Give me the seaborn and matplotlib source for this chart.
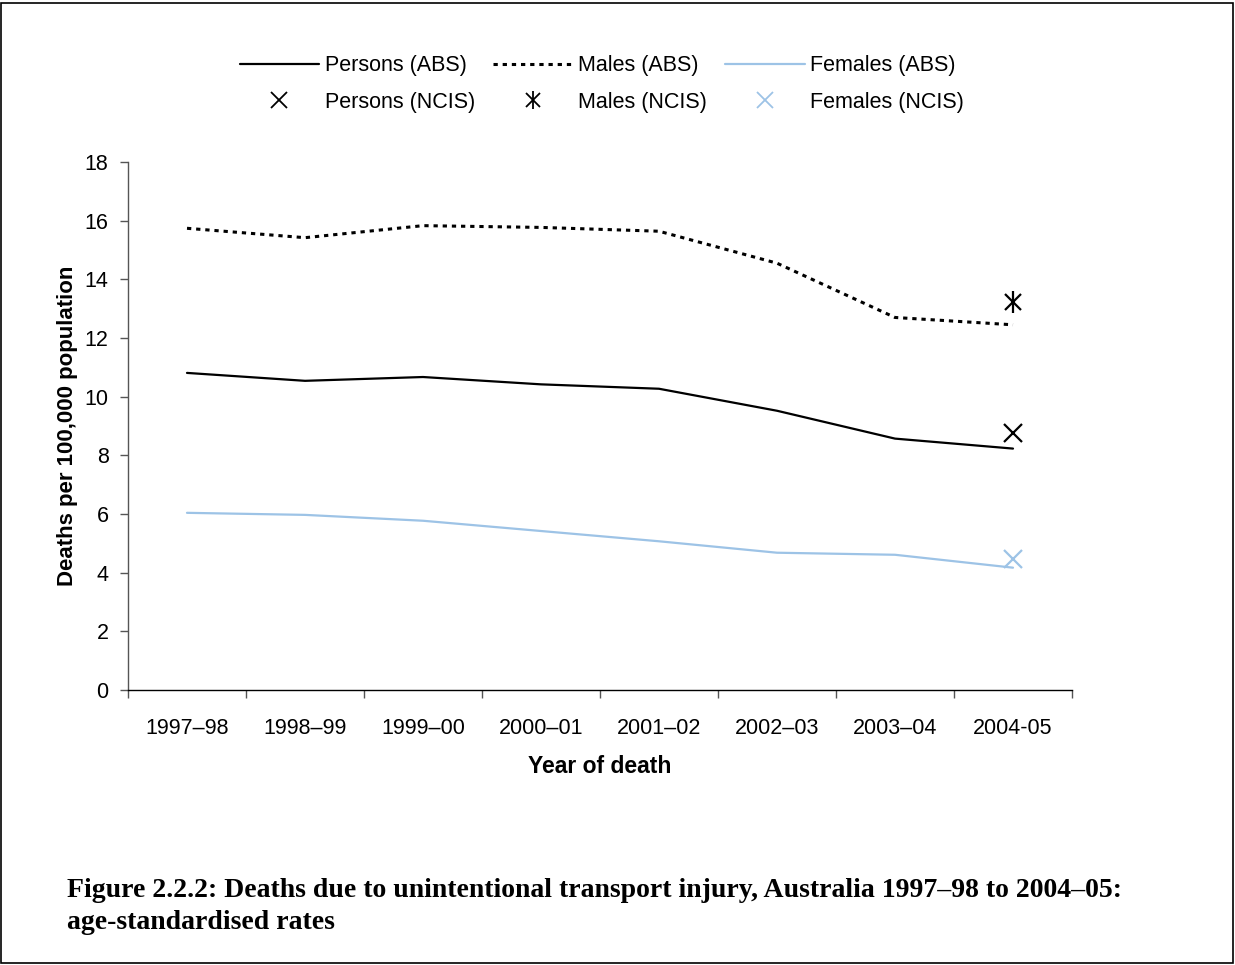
import matplotlib
matplotlib.use("Agg")
import matplotlib.pyplot as plt
import seaborn as sns
import pandas as pd
from matplotlib.lines import Line2D
from matplotlib.patches import Rectangle
from matplotlib.ticker import FixedLocator, MultipleLocator

years = ["1997–98", "1998–99", "1999–00", "2000–01", "2001–02", "2002–03", "2003–04", "2004-05"]
persons_abs = [10.81, 10.54, 10.67, 10.42, 10.27, 9.52, 8.57, 8.23]
males_abs = [15.74, 15.42, 15.83, 15.77, 15.64, 14.55, 12.70, 12.45]
females_abs = [6.04, 5.97, 5.77, 5.42, 5.07, 4.68, 4.61, 4.17]
ncis_year = "2004-05"
persons_ncis = 8.76
males_ncis = 13.22
females_ncis = 4.48

FEMALE_BLUE = "#9DC3E6"

sns.set_theme(style="ticks")
plt.rcParams["font.family"] = ["Liberation Sans", "DejaVu Sans"]
plt.rcParams["text.color"] = "black"
plt.rcParams["xtick.labelcolor"] = "black"
plt.rcParams["ytick.labelcolor"] = "black"
plt.rcParams["axes.labelcolor"] = "black"

df = pd.DataFrame({"year": years, "Persons": persons_abs,
                   "Males": males_abs, "Females": females_abs})

fig = plt.figure(figsize=(12.35, 9.65), dpi=100)
ax = fig.add_axes([128 / 1235, 1 - 690 / 965, (1072 - 128) / 1235, (690 - 162) / 965])

x = list(range(len(years)))
sns.lineplot(x=x, y=df["Persons"], ax=ax, color="black", lw=1.6)
sns.lineplot(x=x, y=df["Males"], ax=ax, color="black", lw=2.2,
             linestyle=(0, (1.4, 1.6)))
sns.lineplot(x=x, y=df["Females"], ax=ax, color=FEMALE_BLUE, lw=1.6)

# asterisk for males: an x plus a vertical bar
xn = years.index(ncis_year)
ax.plot([xn], [persons_ncis], marker="x", ms=13, mew=1.6, color="black", ls="none")
ax.plot([xn], [males_ncis], marker="x", ms=12, mew=1.6, color="black", ls="none")
ax.plot([xn], [males_ncis], marker="|", ms=16, mew=1.6, color="black", ls="none")
ax.plot([xn], [females_ncis], marker="x", ms=13, mew=1.6, color=FEMALE_BLUE, ls="none")

ax.set_xlim(-0.5, len(years) - 0.5)
ax.set_ylim(0, 18)
ax.yaxis.set_major_locator(MultipleLocator(2))
ax.set_xticks(x)
ax.set_xticklabels(years)
ax.xaxis.set_minor_locator(FixedLocator([i - 0.5 for i in range(len(years) + 1)]))
ax.tick_params(axis="x", which="major", length=0, pad=20, labelsize=15.5)
ax.tick_params(axis="x", which="minor", length=6, width=1, color="#555555", direction="out")
ax.tick_params(axis="y", length=6, width=1, color="#555555", labelsize=15.5, pad=8)
sns.despine(ax=ax)
ax.spines["left"].set_color("#555555")
ax.spines["left"].set_linewidth(1)
ax.spines["bottom"].set_color("black")
ax.spines["bottom"].set_linewidth(1)

ax.set_xlabel("Year of death", fontsize=16.5, fontweight="bold", labelpad=12)
ax.set_ylabel("Deaths per 100,000 population", fontsize=16, fontweight="bold", labelpad=5)

handles = [
    Line2D([], [], color="black", lw=1.6),
    Line2D([], [], color="black", marker="x", ms=11, mew=1.3, ls="none"),
    Line2D([], [], color="black", lw=2.2, linestyle=(0, (1.4, 1.6))),
    (Line2D([], [], color="black", marker="x", ms=10, mew=1.3, ls="none"),
     Line2D([], [], color="black", marker="|", ms=13, mew=1.3, ls="none")),
    Line2D([], [], color=FEMALE_BLUE, lw=1.6),
    Line2D([], [], color=FEMALE_BLUE, marker="x", ms=11, mew=1.3, ls="none"),
]
labels = ["Persons (ABS)", "Persons (NCIS)", "Males (ABS)", "Males (NCIS)",
          "Females (ABS)", "Females (NCIS)"]
fig.legend(handles, labels, ncol=3, loc="center", bbox_to_anchor=(602 / 1235, 1 - 84 / 965),
           frameon=False, fontsize=15.5, handlelength=3.7, handletextpad=0.25,
           columnspacing=0.85, labelspacing=0.72)

cap_font = dict(fontsize=20, fontweight="bold", family=["Liberation Serif", "DejaVu Serif"],
                va="baseline")
fig.text(67 / 1235, 1 - 897 / 965,
         "Figure 2.2.2: Deaths due to unintentional transport injury, Australia 1997–98 to 2004–05:",
         **cap_font)
fig.text(67 / 1235, 1 - 929 / 965, "age-standardised rates", **cap_font)

fig.patches.append(Rectangle((1 / 1235, 2 / 965), 1232 / 1235, 960 / 965, transform=fig.transFigure,
                             fill=False, edgecolor="black", lw=1.2))

fig.savefig("out.png", dpi=100)
